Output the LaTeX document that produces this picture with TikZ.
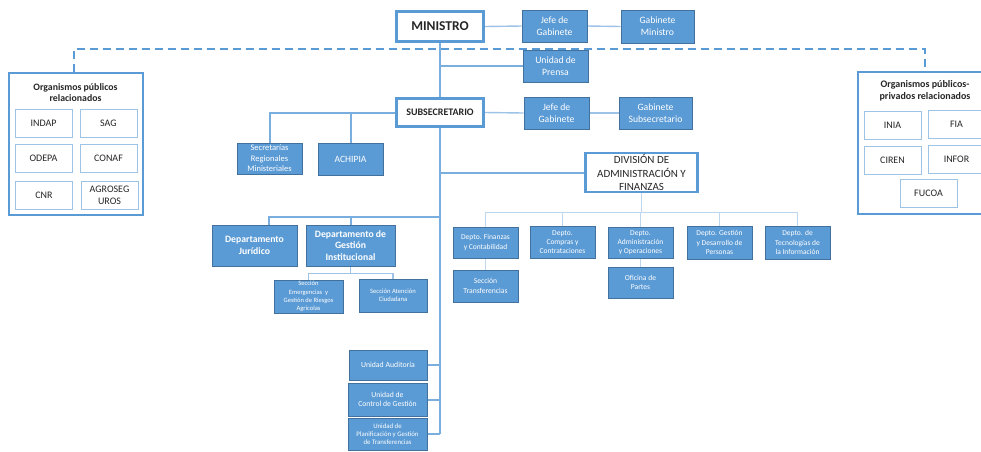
\documentclass[tikz,border=0pt]{standalone}
\usepackage{fontspec}
\setmainfont{Carlito}
\usetikzlibrary{backgrounds}
\definecolor{boxblue}{HTML}{5B9BD5}
\definecolor{bordercol}{HTML}{41719C}
\definecolor{lightblue}{HTML}{9DC3E6}
\definecolor{paleblue}{HTML}{BDD7EE}
\definecolor{trunkblue}{HTML}{7AAEDF}
\definecolor{textgray}{HTML}{262626}
\newcommand\myfs[2]{\fontsize{#1}{#2}\selectfont}
\tikzset{
  fbox/.style={draw=bordercol, line width=0.8pt, fill=boxblue, text=white, align=center, inner sep=0pt},
  wbox/.style={draw=boxblue, line width=2.8pt, fill=white, text=textgray, align=center, inner sep=0pt},
  obox/.style={draw=boxblue, line width=1.3pt, fill=white, inner sep=0pt},
  ibox/.style={draw=lightblue, line width=0.9pt, fill=white, text=textgray, align=center, inner sep=0pt, minimum width=57pt, minimum height=28pt, font=\myfs{10}{12}},
  trunk/.style={draw=trunkblue, line width=2pt},
  thinline/.style={draw=lightblue, line width=1.4pt},
  paleline/.style={draw=paleblue, line width=1.4pt},
  dashline/.style={draw=boxblue, line width=1.5pt, dash pattern=on 8pt off 5pt},
  ttl/.style={text=textgray, align=center, inner sep=0pt, font=\bfseries\myfs{9.8}{11.7}},
}
\begin{document}
\begin{tikzpicture}[x=1pt,y=-1pt]
\useasboundingbox (0,0) rectangle (981,451);
\clip (0,0) rectangle (981,451);
% top level
\node[wbox, minimum width=87pt, minimum height=30pt, font=\bfseries\myfs{13.5}{16}] (min) at (440,26.5) {MINISTRO};
\node[fbox, minimum width=65pt, minimum height=32pt, font=\myfs{9.7}{11.7}] (jefe1) at (554.5,26) {Jefe de\\Gabinete};
\node[fbox, minimum width=73pt, minimum height=33pt, font=\myfs{9.7}{11.7}] (gab1) at (657.5,26.5) {Gabinete\\Ministro};
\node[fbox, minimum width=65pt, minimum height=32pt, font=\myfs{9.7}{11.7}] (prensa) at (555.5,66) {Unidad de\\Prensa};
\node[wbox, minimum width=87pt, minimum height=28pt, font=\bfseries\myfs{10}{12}] (sub) at (440,112.5) {SUBSECRETARIO};
\node[fbox, minimum width=65pt, minimum height=32pt, font=\myfs{9.7}{11.7}] (jefe2) at (556.5,113) {Jefe de\\Gabinete};
\node[fbox, minimum width=73pt, minimum height=32pt, font=\myfs{9.7}{11.7}] (gab2) at (655.5,113) {Gabinete\\Subsecretario};
\node[fbox, minimum width=65pt, minimum height=31pt, font=\myfs{8.5}{10.6}] (seremi) at (269.5,158.5) {Secretarías\\Regionales\\Ministeriales};
\node[fbox, minimum width=65pt, minimum height=32pt, font=\myfs{9.6}{11.5}] (achipia) at (350.5,159) {ACHIPIA};
\node[wbox, minimum width=112pt, minimum height=39pt, font=\myfs{11}{13.3}] (div) at (641.5,172.5) {DIVISIÓN DE\\ADMINISTRACIÓN Y\\FINANZAS};
% departamentos
\node[fbox, minimum width=85pt, minimum height=41pt, font=\bfseries\myfs{9.7}{11.7}] (jur) at (254.5,245.5) {Departamento\\Jurídico};
\node[fbox, minimum width=89pt, minimum height=41pt, font=\bfseries\myfs{9.7}{11.5}] (dgi) at (350.5,245.5) {Departamento de\\Gestión\\Institucional};
\node[fbox, minimum width=69pt, minimum height=33pt, font=\myfs{6.5}{8.2}] (emerg) at (308.5,296.5) {Sección\\Emergencias\ \ y\\Gestión de Riesgos\\Agrícolas};
\node[fbox, minimum width=68pt, minimum height=33pt, font=\myfs{6.6}{8.1}] (aten) at (393,295.5) {Sección Atención\\Ciudadana};
% deptos division
\node[fbox, minimum width=65pt, minimum height=31pt, font=\myfs{7.5}{9.1}] (fin) at (485.5,242.5) {Depto. Finanzas\\y Contabilidad};
\node[fbox, minimum width=65pt, minimum height=32pt, font=\myfs{7.5}{9.2}] (comp) at (562.5,242) {Depto.\\Compras y\\Contrataciones};
\node[fbox, minimum width=65pt, minimum height=31pt, font=\myfs{7.5}{9.2}] (adm) at (640.5,242.5) {Depto.\\Administración\\y Operaciones};
\node[fbox, minimum width=65pt, minimum height=33pt, font=\myfs{7.5}{9.2}] (gdp) at (719.5,242.5) {Depto. Gestión\\y Desarrollo de\\Personas};
\node[fbox, minimum width=65pt, minimum height=33pt, font=\myfs{7.5}{9.2}] (tec) at (797.5,242.5) {Depto. de\\Tecnologías de\\la Información};
\node[fbox, minimum width=65pt, minimum height=32pt, font=\myfs{7.6}{9.3}] (trans) at (485.5,286) {Sección\\Transferencias};
\node[fbox, minimum width=65pt, minimum height=31pt, font=\myfs{7.6}{9.3}] (ofi) at (640.5,282.5) {Oficina de\\Partes};
% unidades
\node[fbox, minimum width=78pt, minimum height=30pt, font=\myfs{7.8}{9.3}] (aud) at (388,365) {Unidad Auditoría};
\node[fbox, minimum width=79pt, minimum height=33pt, font=\myfs{7.7}{9}] (ctrl) at (387.5,399.5) {Unidad de\\Control de Gestión};
\node[fbox, minimum width=79pt, minimum height=32pt, font=\myfs{6.8}{8}] (plan) at (387.5,434) {Unidad de\\Planificación y Gestión\\de Transferencias};
% organismos publicos
\node[obox, minimum width=134pt, minimum height=142pt] (opr) at (76,144) {};
\node[ttl] (oprt) at (75.5,92.5) {Organismos públicos\\relacionados};
\node[ibox] (indap) at (43.5,123) {INDAP};
\node[ibox] (sag) at (108.5,123) {SAG};
\node[ibox] (odepa) at (43.5,158.5) {ODEPA};
\node[ibox] (conaf) at (108.5,158.5) {CONAF};
\node[ibox] (cnr) at (44,195.5) {CNR};
\node[ibox] (agro) at (109.5,195.5) {AGROSEG\\UROS};
% organismos publico-privados
\node[obox, minimum width=134pt, minimum height=142pt] (oppr) at (925,143) {};
\node[ttl, font=\bfseries\myfs{10}{11.8}] (opprt) at (925,91) {Organismos públicos-\\privados relacionados};
\node[ibox] (inia) at (892.5,125) {INIA};
\node[ibox] (fia) at (956.5,124) {FIA};
\node[ibox] (ciren) at (892.5,160) {CIREN};
\node[ibox] (infor) at (956.5,159) {INFOR};
\node[ibox] (fucoa) at (928.5,193) {FUCOA};
% connectors
\coordinate (bot) at (440,434);
\coordinate (dl) at (74,49);
\coordinate (dr) at (925,49);
\coordinate (jurdrop) at (269,217);
\begin{scope}[on background layer]
\draw[dashline] (opr.north -| dl) -- (dl) -- (dr) -- (oppr.north);
\draw[trunk] (min.south) -- (sub.north);
\draw[trunk] (sub.south) -- (bot);
\draw[trunk] (min.south |- prensa.west) -- (prensa.west);
\draw[thinline] (min.east) -- (jefe1.west);
\draw[thinline] (jefe1.east) -- (gab1.west);
\draw[thinline] (sub.east) -- (jefe2.west);
\draw[thinline] (jefe2.east) -- (gab2.west);
\draw[trunk] (sub.west) -- (sub.west -| seremi.north) -- (seremi.north);
\draw[trunk] (sub.west -| achipia.north) -- (achipia.north);
\draw[trunk] (sub.south |- div.west) -- (div.west);
\draw[trunk] (sub.south |- jurdrop) -- (jurdrop) -- (jurdrop |- jur.north);
\draw[trunk] (jurdrop -| dgi.north) -- (dgi.north);
\draw[thinline] (dgi.south) -- ++(0,7) coordinate (gb) -- (gb -| emerg.north) -- (emerg.north);
\draw[thinline] (gb) -- (gb -| aten.north) -- (aten.north);
\draw[paleline] (div.south) -- ++(0,19) coordinate (db);
\draw[paleline] (db -| fin.north) -- (db -| tec.north);
\foreach \n in {fin,comp,adm,gdp,tec} \draw[paleline] (db -| \n.north) -- (\n.north);
\draw[paleline] (fin.south) -- (trans.north);
\draw[paleline] (adm.south) -- (ofi.north);
\foreach \n in {aud,ctrl,plan} \draw[trunk] (\n.east) -- (\n.east -| bot);
\end{scope}
\end{tikzpicture}
\end{document}
